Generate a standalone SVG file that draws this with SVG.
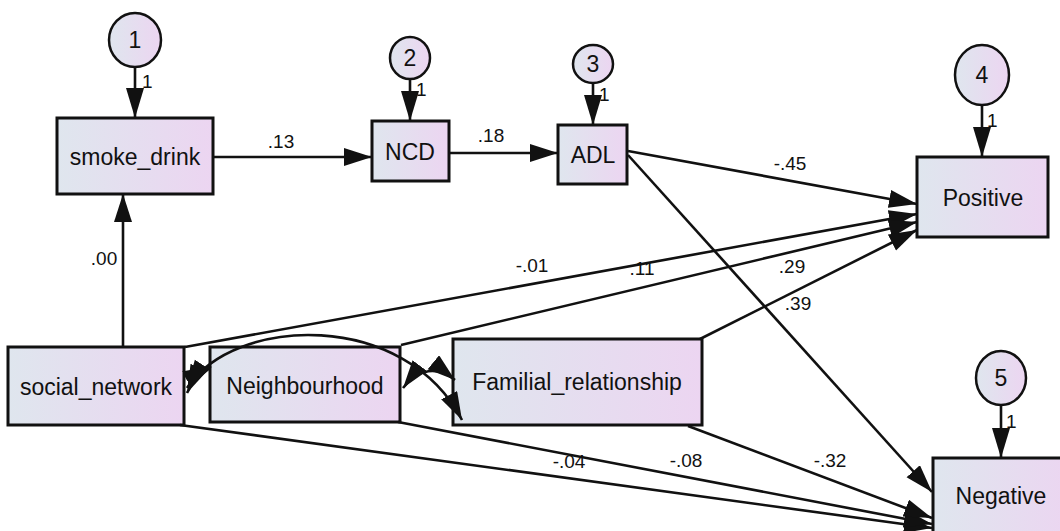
<svg xmlns="http://www.w3.org/2000/svg" width="1060" height="531" viewBox="0 0 1060 531">
<style>
.box{stroke:#111;stroke-width:3;fill:url(#g)}
.err{stroke:#111;stroke-width:2.5;fill:url(#g)}
.t{font-family:"Liberation Sans",Arial,sans-serif;font-size:23px;fill:#111;text-anchor:middle}
.n{font-family:"Liberation Sans",Arial,sans-serif;font-size:19px;fill:#111;text-anchor:middle}
.one{font-family:"Liberation Sans",Arial,sans-serif;font-size:19px;fill:#111}
.c{stroke:#111;stroke-width:2.6;fill:none}
</style>
<defs>
<linearGradient id="g" x1="0" y1="0" x2="1" y2="0">
<stop offset="0" stop-color="#dfe6ee"/>
<stop offset="1" stop-color="#ecd5f1"/>
</linearGradient>
<marker id="a" markerUnits="userSpaceOnUse" markerWidth="30" markerHeight="20" refX="28" refY="9" orient="auto-start-reverse">
<path d="M0,0 L28,9 L0,18 z" fill="#111"/>
</marker>
<marker id="e" markerUnits="userSpaceOnUse" markerWidth="32" markerHeight="20" refX="30" refY="9" orient="auto">
<path d="M0,0 L30,9 L0,18 z" fill="#111"/>
</marker>
</defs>
<rect width="1060" height="531" fill="#fff"/>

<g id="e1"><ellipse class="err" cx="135" cy="40" rx="26" ry="27"/><text class="t" x="135" y="48">1</text></g>
<g id="e2"><ellipse class="err" cx="410" cy="58" rx="20" ry="21"/><text class="t" x="410" y="66">2</text></g>
<g id="e3"><ellipse class="err" cx="593" cy="64" rx="20" ry="19"/><text class="t" x="593" y="72">3</text></g>
<g id="e4"><ellipse class="err" cx="982" cy="75" rx="27" ry="30"/><text class="t" x="982" y="83">4</text></g>
<g id="e5"><ellipse class="err" cx="1001" cy="378" rx="25" ry="27"/><text class="t" x="1001" y="386">5</text></g>

<g id="smoke_drink"><rect class="box" x="57" y="118" width="156" height="76"/><text class="t" x="135" y="165">smoke_drink</text></g>
<g id="NCD"><rect class="box" x="372" y="121" width="77" height="60"/><text class="t" x="410" y="160">NCD</text></g>
<g id="ADL"><rect class="box" x="558" y="125" width="69" height="59"/><text class="t" x="593" y="163">ADL</text></g>
<g id="Positive"><rect class="box" x="917" y="157" width="131" height="80"/><text class="t" x="983" y="206">Positive</text></g>
<g id="Negative"><rect class="box" x="933" y="458" width="140" height="80"/><text class="t" x="1001" y="504">Negative</text></g>
<g id="social_network"><rect class="box" x="8" y="347" width="176" height="78"/><text class="t" x="96" y="395">social_network</text></g>
<g id="Neighbourhood"><rect class="box" x="210" y="347" width="190" height="75"/><text class="t" x="305" y="394">Neighbourhood</text></g>
<g id="Familial_relationship"><rect class="box" x="453" y="339" width="249" height="86"/><text class="t" x="577" y="390">Familial_relationship</text></g>

<g id="connectors">
<line class="c" x1="135" y1="67" x2="135" y2="118" marker-end="url(#e)"/>
<line class="c" x1="410" y1="80" x2="410" y2="121" marker-end="url(#e)"/>
<line class="c" x1="593" y1="83" x2="593" y2="125" marker-end="url(#e)"/>
<line class="c" x1="982" y1="105" x2="982" y2="157" marker-end="url(#e)"/>
<line class="c" x1="1001" y1="405" x2="1001" y2="458" marker-end="url(#e)"/>
<line class="c" x1="214" y1="157" x2="372" y2="157" marker-end="url(#a)"/>
<line class="c" x1="450" y1="153" x2="558" y2="153" marker-end="url(#a)"/>
<line class="c" x1="628" y1="151" x2="917" y2="204" marker-end="url(#a)"/>
<line class="c" x1="628" y1="155" x2="932" y2="492" marker-end="url(#a)"/>
<line class="c" x1="123" y1="346" x2="123" y2="194" marker-end="url(#a)"/>
<line class="c" x1="185" y1="347" x2="917" y2="214" marker-end="url(#a)"/>
<line class="c" x1="401" y1="345" x2="917" y2="222" marker-end="url(#a)"/>
<line class="c" x1="700" y1="339" x2="917" y2="230" marker-end="url(#a)"/>
<line class="c" x1="180" y1="425" x2="932" y2="528" marker-end="url(#a)"/>
<line class="c" x1="398" y1="422" x2="932" y2="524" marker-end="url(#a)"/>
<line class="c" x1="688" y1="426" x2="932" y2="518" marker-end="url(#a)"/>
<path class="c" d="M187,388 C235,315 405,310 462,420" marker-start="url(#a)" marker-end="url(#a)"/>
<path class="c" d="M187,393 C193,380 200,372 211,366" marker-start="url(#a)" marker-end="url(#a)"/>
<path class="c" d="M403,388 C418,368 438,366 455,380" marker-start="url(#a)" marker-end="url(#a)"/>
<text class="one" x="142" y="88">1</text>
<text class="one" x="416" y="96">1</text>
<text class="one" x="599" y="101">1</text>
<text class="one" x="987" y="127">1</text>
<text class="one" x="1006" y="428">1</text>
<text class="n" x="281" y="148">.13</text>
<text class="n" x="491" y="142">.18</text>
<text class="n" x="790" y="170">-.45</text>
<text class="n" x="104" y="265">.00</text>
<text class="n" x="532" y="272">-.01</text>
<text class="n" x="642" y="275">.11</text>
<text class="n" x="792" y="273">.29</text>
<text class="n" x="798" y="310">.39</text>
<text class="n" x="569" y="468">-.04</text>
<text class="n" x="686" y="467">-.08</text>
<text class="n" x="830" y="467">-.32</text>
</g>
</svg>
